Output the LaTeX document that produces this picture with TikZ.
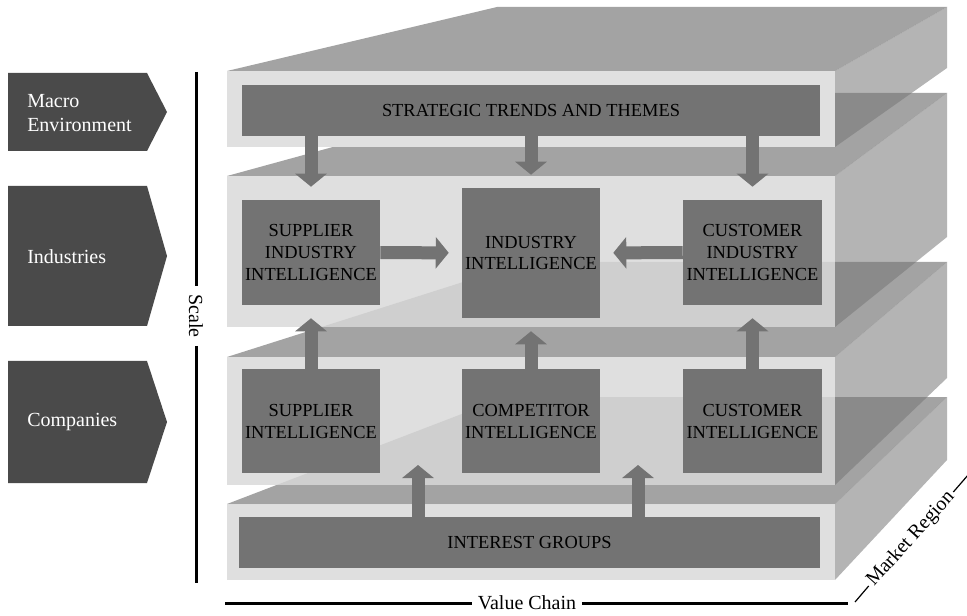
\documentclass[tikz,border=0pt]{standalone}
\usepackage{fontspec}
\setmainfont{Liberation Serif}
\usepackage{tikz}
\usetikzlibrary{arrows.meta}
\usetikzlibrary{positioning}
\usetikzlibrary{calc}
\definecolor{boxgray}{HTML}{737373}
\definecolor{chevgray}{HTML}{4A4A4A}
\definecolor{topgray}{HTML}{A3A3A3}
\definecolor{sidegray}{HTML}{767676}
\definecolor{frontgray}{HTML}{D9D9D9}
\definecolor{frontsolid}{HTML}{E0E0E0}
\tikzstyle{intel}=[fill=boxgray,text=black,align=center,inner sep=0pt,font=\fontsize{13.8}{16.5}\selectfont]
\tikzstyle{level}=[text=white,align=left,anchor=west,inner sep=0pt,font=\fontsize{15}{17.5}\selectfont]
\tikzstyle{axis}=[line width=2.25pt]
\tikzstyle{axislabel}=[font=\fontsize{15}{18}\selectfont,inner sep=4pt]
\tikzstyle{flow}=[draw=boxgray,line width=9.75pt,-{Triangle[width=23.25pt,length=9.75pt]},shorten >=9.75pt]

\begin{document}
\begin{tikzpicture}[x=0.75pt,y=-0.75pt]
\useasboundingbox (0,0) rectangle (967,616);
% slabs, the lowest one first
\foreach \ft/\fb/\bx/\bt/\bb/\fc/\fo in {504/580/506/397/460/frontgray/0.83,
    357/485/526/262/378/frontgray/0.83,
    176/327/530/93/237/frontgray/0.83,
    71/147/497/7/68/frontsolid/1}{
  \fill[topgray] (227,\ft) -- (\bx,\bt) -- (947,\bt) -- (835,\ft) -- cycle;
  \fill[sidegray,fill opacity=0.55] (835,\ft) -- (947,\bt) -- (947,\bb) -- (835,\fb) -- cycle;
  \fill[fill=\fc,fill opacity=\fo] (227,\ft) rectangle (835,\fb);
}

% levels on the left
\foreach \yt/\yb in {73/151,186/326,361/483}
  \fill[chevgray] (8,\yt) -- (147,\yt) -- (167,{(\yt+\yb)/2}) -- (147,\yb) -- (8,\yb) -- cycle;
\node[level] (macro) at (27,113) {Macro\\Environment};
\node[level] (industries) at (27,257) {Industries};
\node[level] (companies) at (27,422) {Companies};

% axes
\node[axislabel,rotate=-90,inner sep=6pt] (scale) at (196,316) {Scale};
\coordinate (scaletop) at (196,72);
\coordinate (scalebot) at (196,583);
\draw[axis] (scaletop) -- (scale.west);
\draw[axis] (scale.east) -- (scalebot);
\node[axislabel] (value) at (527,603) {Value Chain};
\coordinate (valueleft) at (225,603);
\coordinate (valueright) at (848,603);
\draw[axis] (valueleft) -- (value.west);
\draw[axis] (value.east) -- (valueright);
\node[axislabel,rotate=48,inner sep=2pt] (market) at (911,539) {Market Region};
\coordinate (marketlow) at (855,602);
\coordinate (markethigh) at (975,467);
\draw[line width=0.9pt] (marketlow) -- (market.west);
\draw[line width=0.9pt] (market.east) -- (markethigh);

% boxes
\node[intel,minimum width=433.5pt,minimum height=38.25pt] (strategic) at (531,110.5) {STRATEGIC TRENDS AND THEMES};
\node[intel,minimum width=103.5pt,minimum height=78.75pt] (supind) at (311,252.5) {SUPPLIER\\INDUSTRY\\INTELLIGENCE};
\node[intel,minimum width=103.5pt,minimum height=97.5pt] (industry) at (531,253) {INDUSTRY\\INTELLIGENCE};
\node[intel,minimum width=104.25pt,minimum height=78.75pt] (custind) at (752.5,252.5) {CUSTOMER\\INDUSTRY\\INTELLIGENCE};
\node[intel,minimum width=103.5pt,minimum height=78pt] (supplier) at (311,421) {SUPPLIER\\INTELLIGENCE};
\node[intel,minimum width=103.5pt,minimum height=78pt] (competitor) at (531,421) {COMPETITOR\\INTELLIGENCE};
\node[intel,minimum width=104.25pt,minimum height=78pt] (customer) at (752.5,421) {CUSTOMER\\INTELLIGENCE};
\node[intel,minimum width=435.75pt,minimum height=38.25pt] (interest) at (529.5,542.5) {INTEREST GROUPS};

% arrows
\draw[flow] (strategic.south -| supind.north) -- (supind.north);
\draw[flow] (strategic.south -| industry.north) -- (industry.north);
\draw[flow] (strategic.south -| custind.north) -- (custind.north);
\draw[flow] (supind) -- (industry);
\draw[flow] (custind) -- (industry);
\draw[flow] (supplier) -- (supind);
\draw[flow] (competitor) -- (industry);
\draw[flow] (customer) -- (custind);
\coordinate (igleft) at (418,465);
\coordinate (igright) at (638,465);
\draw[flow,shorten >=0pt] (interest.north -| igleft) -- (igleft);
\draw[flow,shorten >=0pt] (interest.north -| igright) -- (igright);
\end{tikzpicture}
\end{document}
